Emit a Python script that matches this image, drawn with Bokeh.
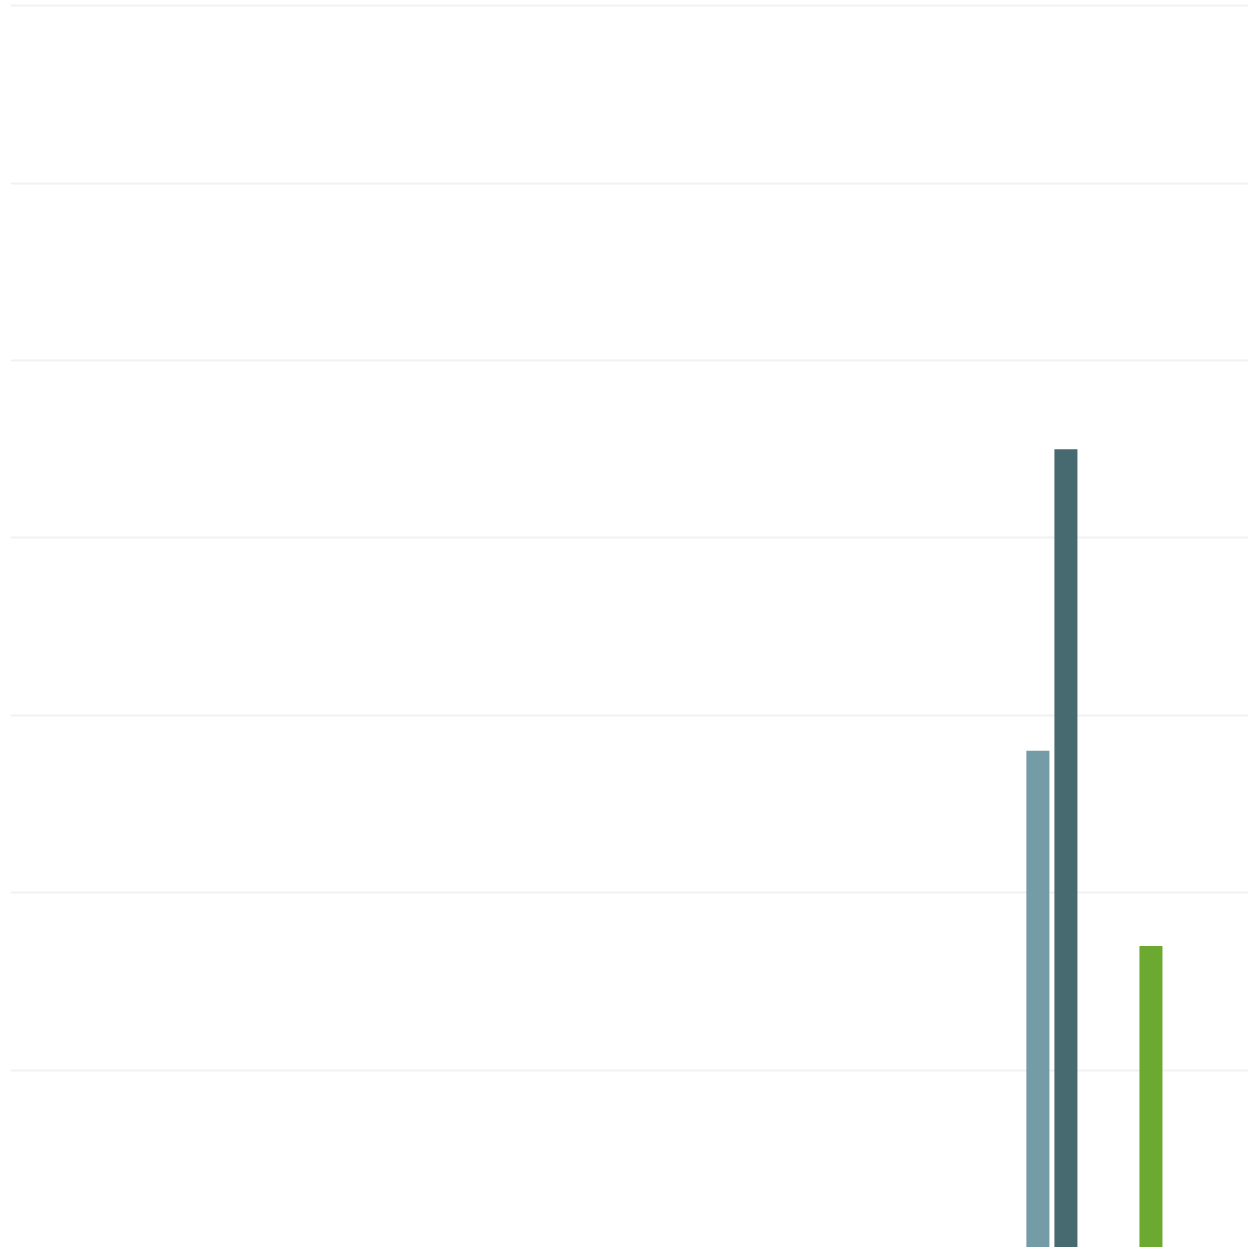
from bokeh.plotting import figure
from bokeh.models import Range1d, SingleIntervalTicker, ColumnDataSource
from bokeh.transform import dodge
from bokeh.embed import file_html
from bokeh.resources import INLINE

# data
years_group = [2021]
series_a = [2.8]   # light slate
series_b = [4.5]   # dark slate
years_single = [2023]
series_c = [1.7]   # green

src_ab = ColumnDataSource(dict(year=years_group, a=series_a, b=series_b))
src_c = ColumnDataSource(dict(year=years_single, c=series_c))

p = figure(width=1251, height=1247, output_backend="svg", toolbar_location=None,
           x_range=Range1d(1999.97, 2024.97), y_range=Range1d(0, 7.012),
           x_axis_location=None, y_axis_location=None,
           min_border_left=10, min_border_right=3, min_border_top=3, min_border_bottom=0)
p.outline_line_color = None
p.xgrid.visible = False
p.ygrid.ticker = SingleIntervalTicker(interval=1)
p.ygrid.grid_line_color = "#f2f2f2"
p.ygrid.grid_line_width = 2

bw = 0.465
p.vbar(x=dodge("year", -0.283, range=p.x_range), top="a", width=bw, bottom=0,
       source=src_ab, fill_color="#739CA6", line_color=None)
p.vbar(x=dodge("year", 0.283, range=p.x_range), top="b", width=bw, bottom=0,
       source=src_ab, fill_color="#476A70", line_color=None)
p.vbar(x="year", top="c", width=bw, bottom=0,
       source=src_c, fill_color="#6BA930", line_color=None)

open("out.html", "w").write(file_html(p, INLINE))
